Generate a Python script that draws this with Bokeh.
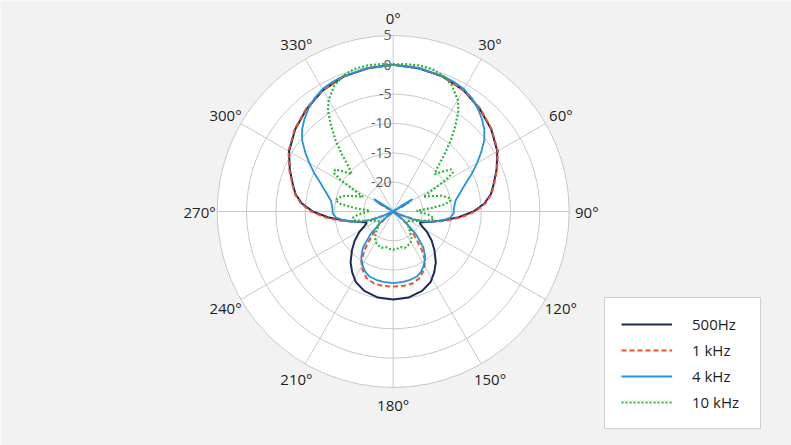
import numpy as np
from bokeh.plotting import figure
from bokeh.models import Legend, LegendItem, Range1d
from bokeh.core.properties import value
from bokeh.embed import file_html
from bokeh.resources import INLINE

# polar response, dB per angle (0..180 deg, the pattern is mirrored for 180..360)
ang_500 = [0, 10, 20, 30, 40, 50, 60, 68, 75, 80, 85, 90, 95, 100, 105, 110, 113, 117,
           121, 127, 133, 140, 146, 152, 160, 170, 180]
db_500 = [0, -0.2, -0.5, -1.1, -2.1, -3.2, -4.5, -6.0, -7.3, -8.1, -9.4, -11.3, -13.8, -16.3,
          -18.3, -19.7, -20.1, -19.5, -18.3, -16.8, -15.4, -13.7, -12.5, -11.4, -10.6, -10.1, -10.0]

ang_1k = [0, 10, 20, 30, 40, 50, 60, 68, 75, 80, 85, 90, 95, 100, 105, 110, 114, 118, 121,
          124, 128, 133, 138, 143, 147, 152, 158, 165, 172, 180]
db_1k = [0, -0.2, -0.5, -1.1, -2.0, -3.1, -4.4, -5.9, -7.2, -8.0, -9.2, -11.0, -13.4, -15.9,
         -18.2, -20.6, -23.5, -27.0, -28.2, -27.0, -24.0, -21.5, -19.8, -17.0, -15.0, -13.8,
         -12.8, -12.3, -12.2, -12.2]

ang_4k = [0, 10, 20, 25, 30, 35, 40, 44, 48, 52, 56, 60, 64, 68, 72, 76, 80, 86, 92, 96, 100,
          104, 108, 112, 116, 120, 123, 126, 130, 135, 140, 145, 150, 155, 160, 166, 172, 180]
db_4k = [0, -0.2, -0.4, -0.6, -0.9, -1.5, -2.4, -3.2, -4.1, -5.3, -6.9, -8.5, -10.0, -11.5,
         -12.6, -13.5, -14.2, -14.6, -14.7, -15.2, -16.4, -17.8, -19.4, -21.5, -24.5, -28.0,
         -28.9, -26.0, -22.5, -19.5, -17.0, -15.5, -14.5, -13.7, -13.2, -13.0, -12.9, -12.8]

ang_10k = [0, 5, 10, 15, 20, 25, 30, 33, 36, 39, 42, 45, 48, 51, 54, 57, 59, 61, 64, 68, 72,
           76, 79, 82, 85, 88, 91, 95, 99, 103, 108, 114, 120, 127, 134, 140, 145, 150, 156,
           162, 168, 174, 180]
db_10k = [0.1, 0.2, 0.3, 0.2, -0.3, -1.3, -3.0, -4.6, -7.0, -9.4, -12.0, -14.3, -15.5, -14.2,
          -12.8, -12.9, -14.5, -17.0, -19.3, -18.0, -16.3, -15.3, -15.0, -16.0, -18.5, -21.0,
          -20.5, -19.0, -18.0, -18.3, -19.8, -21.0, -21.8, -22.2, -21.5, -20.5, -19.6, -19.0,
          -18.7, -18.5, -18.8, -18.6, -18.5]

series = ["500Hz", "1 kHz", "4 kHz", "10 kHz"]
colors = ["#1b2a5c", "#f0502f", "#2196dc", "#2fb43a"]
dashes = ["solid", "5 3", "solid", "2 2"]
widths = [2.0, 2.0, 1.8, 2.2]

ring_db = [5, 0, -5, -10, -15, -20]
ring_labels = ["5", "0", "-5", "-10", "-15", "-20"]
spoke_angles = list(range(0, 360, 30))
spoke_labels = [f"{a}\u00b0" for a in spoke_angles]

R_MIN, R_MAX = -25, 5
K = 5.867                     # px per dB
W, H = 791, 445
CX, CY = 392.7, 211.0         # centre of the polar area, px from top-left

p = figure(width=W, height=H, output_backend="svg", toolbar_location=None,
           x_axis_type=None, y_axis_type=None, min_border=0,
           x_range=Range1d(-CX / K, (W - CX) / K),
           y_range=Range1d(-(H - CY) / K, CY / K))
p.grid.visible = False
p.outline_line_color = None
p.background_fill_color = "#f2f2f2"
p.border_fill_color = "#f2f2f2"

rmax = R_MAX - R_MIN
p.circle(x=[0], y=[0], radius=[rmax], fill_color="white", line_color=None)
p.circle(x=[0] * len(ring_db), y=[0] * len(ring_db), radius=[d - R_MIN for d in ring_db],
         fill_color=None, line_color="#c8c8c8", line_width=1)
th = np.radians(spoke_angles)
p.segment(x0=[0] * len(th), y0=[0] * len(th), x1=list(rmax * np.sin(th)),
          y1=list(rmax * np.cos(th)), line_color="#c8c8c8", line_width=1)

lr = rmax + 3.0
p.text(x=list(lr * np.sin(th)), y=list(lr * np.cos(th)), text=spoke_labels,
       text_align="center", text_baseline="middle", text_font=value("Open Sans"),
       text_font_size="15px", text_color="#1e1e1e")
p.text(x=[-0.3] * len(ring_db), y=[d - R_MIN for d in ring_db], text=ring_labels,
       text_align="right", text_baseline="middle", text_font=value("Open Sans"),
       text_font_size="14px", text_color="#5a5a5a")


def full_curve(ang, db):
    a = list(ang) + [360 - x for x in reversed(ang[:-1])]
    d = list(db) + list(reversed(db[:-1]))
    t = np.radians(a)
    r = np.array(d) - R_MIN
    return list(r * np.sin(t)), list(r * np.cos(t))


items = []
for name, ang, db, c, dsh, w in zip(series, [ang_500, ang_1k, ang_4k, ang_10k],
                                    [db_500, db_1k, db_4k, db_10k], colors, dashes, widths):
    xs, ys = full_curve(ang, db)
    r = p.line(xs, ys, line_color=c, line_dash=dsh, line_width=w)
    items.append(LegendItem(label=name, renderers=[r]))

legend = Legend(items=items, location=(604, 16), glyph_width=51, glyph_height=20,
                label_standoff=20, label_width=52, padding=16, spacing=6, margin=0,
                border_line_color="#a0a0a0", border_line_width=1,
                background_fill_color="white", background_fill_alpha=1,
                label_text_font="Open Sans", label_text_font_size="15px",
                label_text_color="#1e1e1e")
p.add_layout(legend)

open("out.html", "w").write(file_html(p, INLINE))
